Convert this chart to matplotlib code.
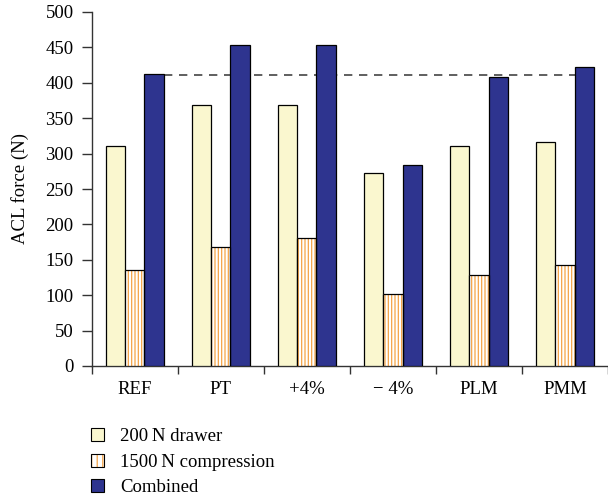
import numpy as np
import matplotlib.pyplot as plt
from matplotlib.patches import Patch
from matplotlib.legend_handler import HandlerTuple

plt.rcParams['font.family'] = ['Liberation Serif', 'DejaVu Serif']
plt.rcParams['hatch.linewidth'] = 0.9

categories = ['REF', 'PT', '+4%', '\u2212 4%', 'PLM', 'PMM']
drawer = [311, 368, 368, 273, 311, 316]
compression = [135, 168, 181, 102, 129, 142]
combined = [412, 454, 454, 284, 408, 423]
ref_line = 411

yellow = '#FAF7CF'
orange = '#F5A447'
blue = '#2E348F'
fs = 13.5

fig = plt.figure(figsize=(6.08, 5.0), dpi=100)
ax = fig.add_axes([0.1508, 0.268, 0.8492, 0.708])

x = np.arange(len(categories)) + 0.5
w = 0.225

ax.bar(x - w, drawer, w, color=yellow, edgecolor='black', linewidth=0.9, zorder=3)
ax.bar(x, compression, w, color='white', edgecolor=orange, hatch='|||||', linewidth=0, zorder=3)
ax.bar(x, compression, w, color='none', edgecolor='black', linewidth=0.9, zorder=4)
ax.bar(x + w, combined, w, color=blue, edgecolor='black', linewidth=0.9, zorder=3)

ax.hlines(ref_line, x[0] + 1.5 * w, x[-1] + 1.5 * w, colors='#444444',
          linestyles=(0, (5, 4)), linewidth=1.2, zorder=2)

ax.set_xlim(0, len(categories))
ax.set_ylim(0, 500)
ax.set_yticks(np.arange(0, 501, 50))
ax.set_xticks(np.arange(len(categories) + 1))
ax.set_xticklabels([])
ax.set_xticks(x, minor=True)
ax.set_xticklabels(categories, minor=True)
ax.tick_params(axis='x', which='minor', length=0, pad=11, labelsize=fs)
ax.tick_params(axis='x', which='major', direction='out', length=6, width=1, color='#333333')
ax.tick_params(axis='y', direction='out', length=7, width=1, color='#333333',
               labelsize=fs, pad=6)
ax.set_ylabel('ACL force (N)', fontsize=fs)
ax.yaxis.set_label_coords(-0.122, 0.5)

for s in ['top', 'right']:
    ax.spines[s].set_visible(False)
for s in ['left', 'bottom']:
    ax.spines[s].set_linewidth(1)
    ax.spines[s].set_color('#333333')

h1 = Patch(facecolor=yellow, edgecolor='black', linewidth=0.8)
h2a = Patch(facecolor='white', edgecolor=orange, hatch='|||', linewidth=0)
h2b = Patch(facecolor='none', edgecolor='black', linewidth=0.8)
h3 = Patch(facecolor=blue, edgecolor='black', linewidth=0.8)
fig.legend([h1, (h2a, h2b), h3], ['200\u2009N drawer', '1500\u2009N compression', 'Combined'],
           handler_map={tuple: HandlerTuple(ndivide=1, pad=0)},
           loc='upper left', bbox_to_anchor=(90.7 / 608, 1 - 428 / 500),
           bbox_transform=fig.transFigure, frameon=False, fontsize=fs,
           borderpad=0, borderaxespad=0,
           handlelength=0.72, handleheight=0.68, handletextpad=0.85, labelspacing=0.46)

fig.savefig('out.png', dpi=100)
